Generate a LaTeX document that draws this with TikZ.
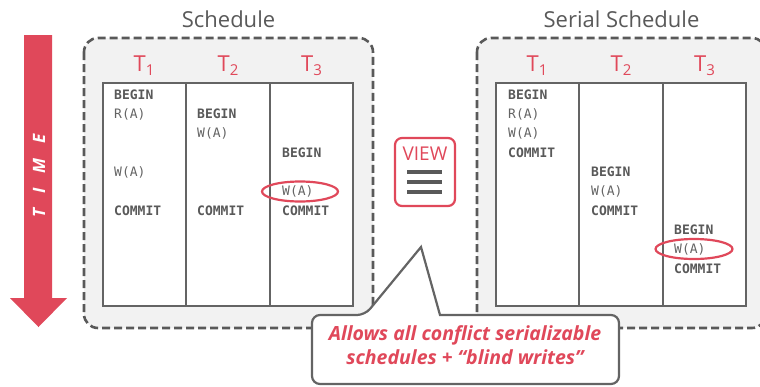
\documentclass[tikz,border=0pt]{standalone}
\usepackage{fontspec}
\setmainfont{Open Sans}
\setmonofont{DejaVu Sans Mono}
\usetikzlibrary{calc,shapes.geometric}

\definecolor{dbred}{RGB}{224,72,90}
\definecolor{dbgray}{RGB}{89,89,89}
\definecolor{opgray}{RGB}{100,100,100}
\definecolor{boxfill}{RGB}{242,242,242}
\definecolor{linegray}{RGB}{100,100,100}

\newcommand{\txnsub}[1]{\raisebox{-4pt}{\fontsize{15}{15}\selectfont #1}}

\tikzset{
  sched box/.style={draw=dbgray, line width=2.6pt, dash pattern=on 8pt off 4pt,
    fill=boxfill, rounded corners=14pt},
  grid line/.style={draw=linegray, line width=1.3pt, fill=white},
  title/.style={text=dbgray, font=\fontsize{22}{22}\selectfont},
  txn/.style={text=dbred, font=\fontsize{22}{22}\selectfont},
  op/.style={anchor=west, inner sep=0pt, text=opgray,
    font=\ttfamily\fontsize{13}{13}\selectfont},
  opb/.style={op, text=dbgray, font=\ttfamily\bfseries\fontsize{13}{13}\selectfont},
  blind/.style={draw=dbred, line width=2.2pt, ellipse, inner sep=0pt,
    minimum width=76pt, minimum height=20pt},
}

\begin{document}
\begin{tikzpicture}[x=1pt, y=-1pt]
  \useasboundingbox (0,0) rectangle (760,386);
  \clip (0,0) rectangle (760,386);

  % time arrow
  \fill[dbred] (24,35) -- (52,35) -- (52,298) -- (67,298) -- (38.5,327)
    -- (10,298) -- (24,298) -- cycle;
  \node[rotate=90, text=white, font=\bfseries\itshape\fontsize{17}{17}\selectfont]
    (time) at (39,176) {T\hspace{15pt}I\hspace{15pt}M\hspace{15pt}E};

  % the two schedules
  \foreach \sx/\title/\tag in {0/Schedule/sched, 393/Serial Schedule/serial} {
    \begin{scope}[xshift=\sx]
      \draw[sched box] (84,38) rectangle (373,328);
      \node[title] (\tag title) at (228.5,19) {\title};
      \draw[grid line] (103,83) rectangle (353,306);
      \draw[grid line] (186,83) -- (186,306) (270,83) -- (270,306);
      \foreach \i/\cx in {1/144, 2/228, 3/311.5}
        \node[txn] (\tag T\i) at (\cx,66) {T\txnsub{\i}};
    \end{scope}
  }

  % schedule
  \node[opb] (s1 begin)  at (114,95)  {BEGIN};
  \node[op]  (s1 read)   at (114,114) {R(A)};
  \node[op]  (s1 write)  at (114,172) {W(A)};
  \node[opb] (s1 commit) at (114,211) {COMMIT};
  \node[opb] (s2 begin)  at (197,114) {BEGIN};
  \node[op]  (s2 write)  at (197,133) {W(A)};
  \node[opb] (s2 commit) at (197,211) {COMMIT};
  \node[opb] (s3 begin)  at (282,153) {BEGIN};
  \node[op]  (s3 write)  at (282,191) {W(A)};
  \node[opb] (s3 commit) at (282,211) {COMMIT};
  \node[blind] (s3 mark) at (300,191.5) {};

  % serial schedule
  \node[opb] (r1 begin)  at (508,95)  {BEGIN};
  \node[op]  (r1 read)   at (508,114) {R(A)};
  \node[op]  (r1 write)  at (508,133) {W(A)};
  \node[opb] (r1 commit) at (508,153) {COMMIT};
  \node[opb] (r2 begin)  at (591,172) {BEGIN};
  \node[op]  (r2 write)  at (591,191) {W(A)};
  \node[opb] (r2 commit) at (591,211) {COMMIT};
  \node[opb] (r3 begin)  at (674,230) {BEGIN};
  \node[op]  (r3 write)  at (674,249) {W(A)};
  \node[opb] (r3 commit) at (674,269) {COMMIT};
  \node[blind, minimum width=77pt] (r3 mark) at (694,249) {};

  % view equivalence sign
  \node[draw=dbred, line width=2.2pt, rounded corners=7pt, fill=white,
    minimum width=60pt, minimum height=68pt] (view) at (425,172) {};
  \node[text=dbred, font=\fontsize{19}{19}\selectfont] (view label) at (425,154) {VIEW};
  \foreach \y in {172,182,192}
    \draw[dbgray, line width=4pt] (407,\y) -- (442,\y);

  % callout
  \draw[draw=linegray, line width=2.2pt, fill=white] (365,315) -- (421,247) -- (440,315)
    [rounded corners=8pt] -- (619,315) -- (619,384) -- (312,384) -- (312,315) -- cycle;
  \node[align=center, text=dbred, font=\bfseries\itshape\fontsize{19.5}{24}\selectfont]
    (note) at (465,345) {Allows all conflict serializable\\schedules + “blind writes”};
\end{tikzpicture}
\end{document}
